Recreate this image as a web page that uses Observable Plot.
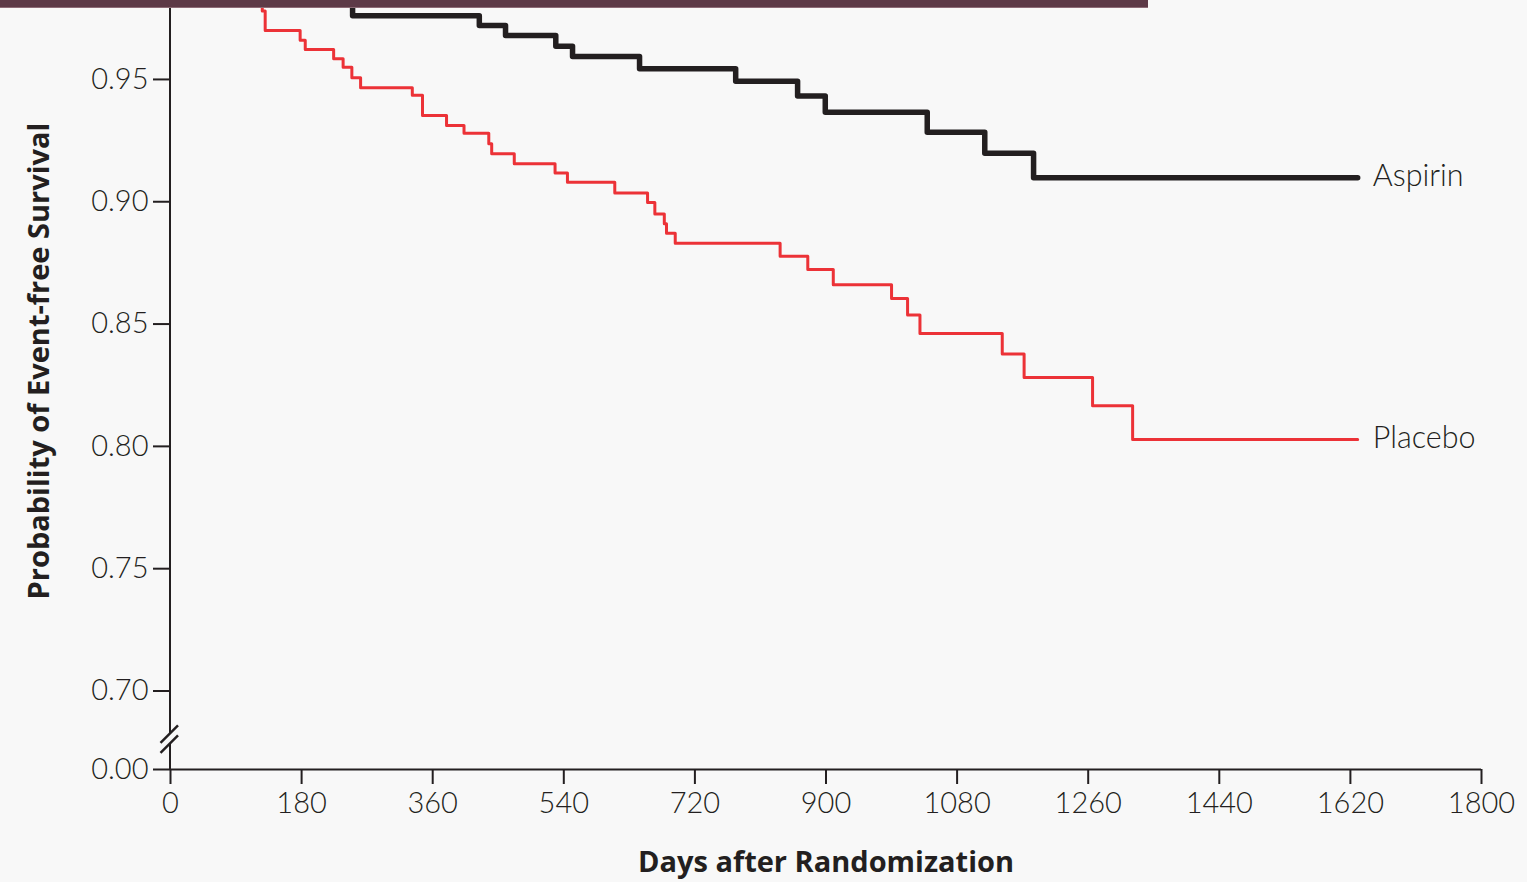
<!DOCTYPE html>
<html>
<head>
<meta charset="utf-8">
<script src="https://cdn.jsdelivr.net/npm/d3@7"></script>
<script src="https://cdn.jsdelivr.net/npm/@observablehq/plot@0.6"></script>
<style>
  html, body { margin: 0; padding: 0; background: #f8f8f8; }
  #wrap { position: relative; width: 1527px; height: 882px; overflow: hidden; }
  #wrap svg { position: absolute; left: 0; top: 0; }
  #bar { position: absolute; left: 0; top: 0; width: 1148px; height: 7px; background: #5d3a47; border-bottom: 1px solid #8d6b76; z-index: 2; }
</style>
</head>
<body>
<div id="wrap"><div id="bar"></div></div>
<script>
// ---- Data ----
const seriesNames = ["Aspirin", "Placebo"];
const aspirinDays = [0, 250, 424, 460, 529, 552, 644, 776, 861, 899, 1039, 1118, 1185, 1630];
const aspirinSurv = [1.0, 0.976, 0.972, 0.968, 0.9636, 0.9594, 0.9544, 0.9493, 0.9432, 0.9366, 0.9284, 0.9198, 0.9098, 0.9098];
const placeboDays = [0, 126, 130, 178, 185, 224, 237, 249, 261, 332, 346, 379, 403, 437, 441, 472, 528, 545, 610, 655, 665, 678, 681, 693, 837, 875, 910, 990, 1012, 1029, 1142, 1172, 1266, 1321, 1630];
const placeboSurv = [1.0, 0.978, 0.970, 0.966, 0.9622, 0.9585, 0.955, 0.9507, 0.9466, 0.9435, 0.9353, 0.9312, 0.928, 0.9237, 0.9196, 0.9155, 0.9118, 0.908, 0.9036, 0.8997, 0.895, 0.891, 0.8871, 0.883, 0.8777, 0.8723, 0.8661, 0.8604, 0.8537, 0.8461, 0.8378, 0.8282, 0.8166, 0.8028, 0.8028];
const xTicks = [0, 180, 360, 540, 720, 900, 1080, 1260, 1440, 1620, 1800];
const yTicks = [0, 0.70, 0.75, 0.80, 0.85, 0.90, 0.95];
const xLabel = "Days after Randomization";
const yLabel = "Probability of Event-free Survival";

// ---- Tables built from the arrays ----
const aspirin = aspirinDays.map((d, i) => ({group: seriesNames[0], day: d, surv: aspirinSurv[i]}));
const placebo = placeboDays.map((d, i) => ({group: seriesNames[1], day: d, surv: placeboSurv[i]}));
const ends = [aspirin[aspirin.length - 1], placebo[placebo.length - 1]];

const ink = "#231f20";
const red = "#ec3237";
const labelFont = "'Open Sans', Lato, sans-serif";

// y-axis line with a scale break between 0.00 and 0.70
function axisBreak(index, scales, values, dimensions) {
  const x0 = scales.x(0), y0 = scales.y(0), y7 = scales.y(0.70);
  const top = dimensions.marginTop;
  const b1 = y0 - 0.447 * (y0 - y7), b2 = y0 - 0.32 * (y0 - y7);
  const g = d3.create("svg:g").attr("stroke", ink).attr("fill", "none");
  g.append("path").attr("stroke-width", 2).attr("d", `M${x0},${top}V${b1}M${x0},${b2}V${y0}`);
  for (const b of [b1, b2]) {
    g.append("path").attr("stroke-width", 2.5).attr("d", `M${x0 - 9.5},${b + 9}L${x0 + 8},${b - 8.5}`);
  }
  return g.node();
}

const chart = Plot.plot({
  width: 1527,
  height: 882,
  marginLeft: 170,
  marginRight: 46,
  marginTop: 8,
  marginBottom: 113,
  style: {background: "#f8f8f8", color: ink, fontFamily: "Lato, 'Open Sans', sans-serif", fontSize: "29px"},
  x: {domain: [0, 1800]},
  y: {type: "linear", domain: [0, 0.70, 0.979], range: [769, 690.5, 8]},
  marks: [
    Plot.axisX({ticks: xTicks, tickSize: 15, tickPadding: 8, tickFormat: d3.format("d"), label: null, strokeWidth: 2, fontSize: 29, fontWeight: 300}),
    Plot.axisY({ticks: yTicks, tickSize: 17, tickPadding: 5, tickFormat: d3.format(".2f"), label: null, strokeWidth: 2, fontSize: 29, fontWeight: 300}),
    Plot.ruleY([0], {stroke: ink, strokeWidth: 2}),
    axisBreak,
    Plot.line(placebo, {x: "day", y: "surv", curve: "step-after", stroke: red, strokeWidth: 3, clip: true}),
    Plot.line(aspirin, {x: "day", y: "surv", curve: "step-after", stroke: ink, strokeWidth: 5.5, clip: true}),
    Plot.text(ends, {x: "day", y: "surv", text: "group", dx: 15, dy: -1.5, textAnchor: "start", fontSize: 30.5, fontWeight: 300, fill: ink}),
    Plot.text([yLabel], {frameAnchor: "left", textAnchor: "middle", rotate: -90, dx: -131, dy: -28, fontWeight: "bold", fontSize: 29, fontFamily: labelFont, fill: ink}),
    Plot.text([xLabel], {frameAnchor: "bottom", textAnchor: "middle", dy: 102, fontWeight: "bold", fontSize: 29, fontFamily: labelFont, fill: ink})
  ]
});
document.getElementById("wrap").insertBefore(chart, document.getElementById("bar"));
</script>
</body>
</html>
